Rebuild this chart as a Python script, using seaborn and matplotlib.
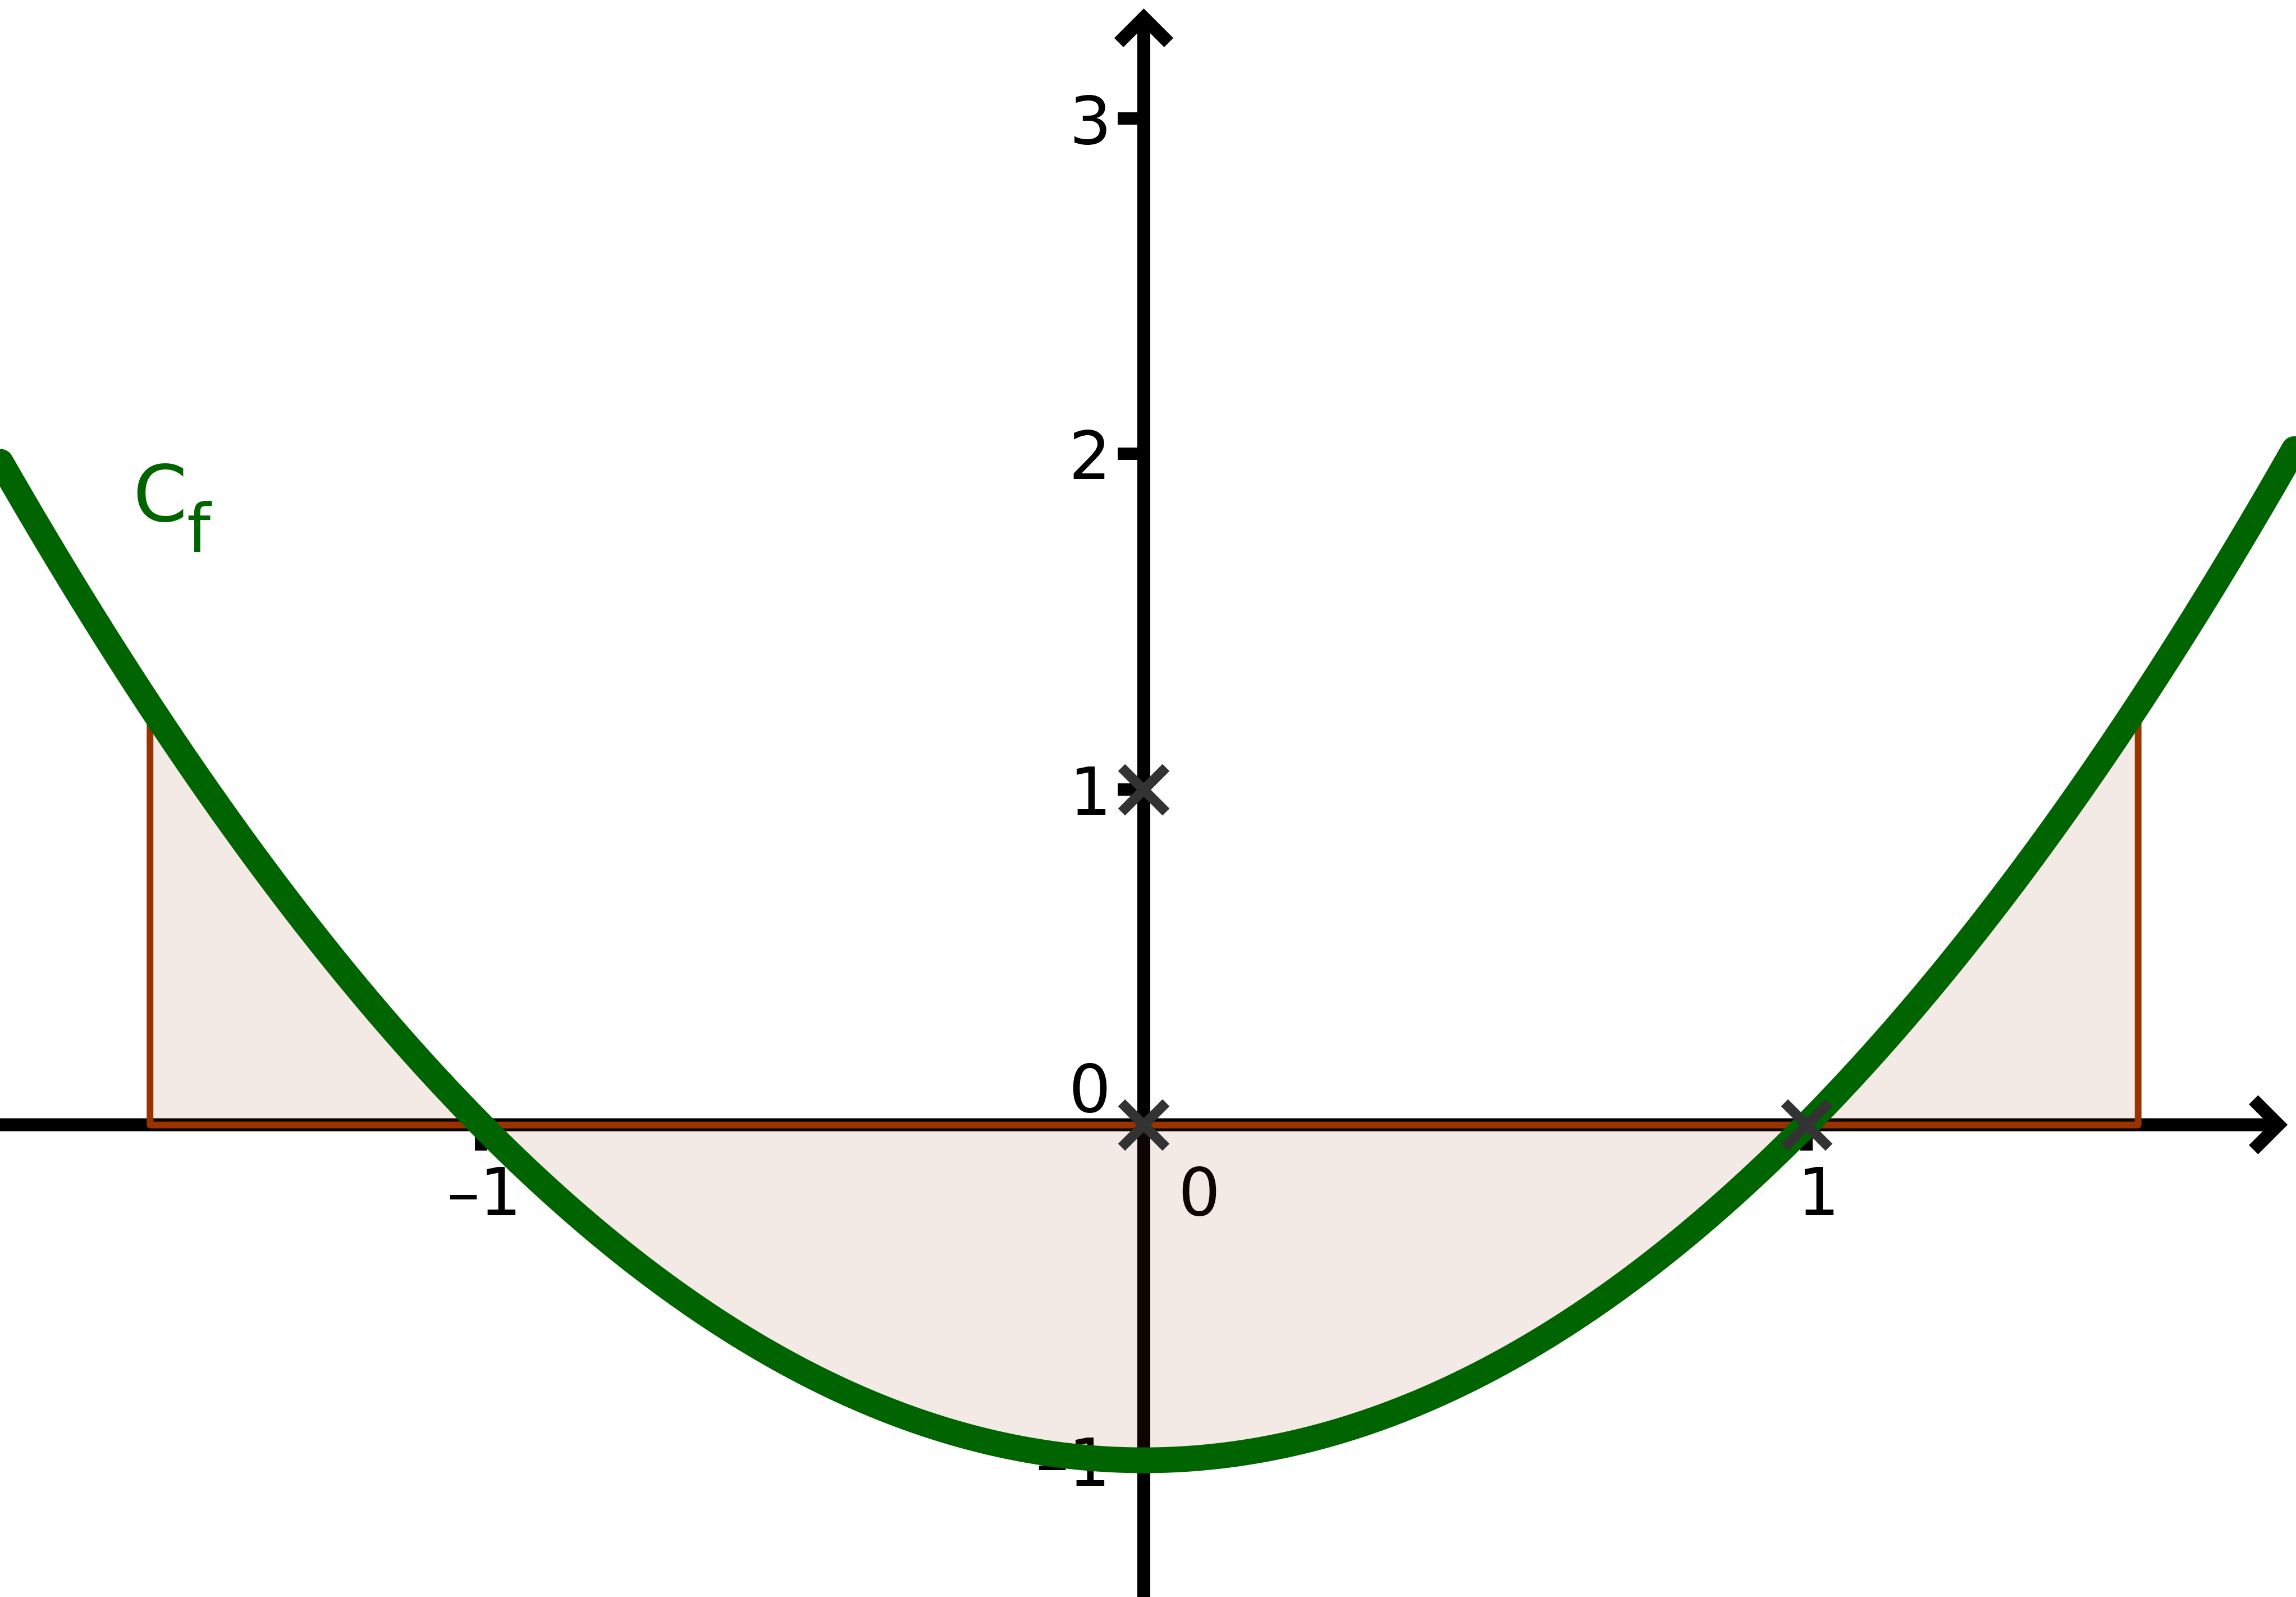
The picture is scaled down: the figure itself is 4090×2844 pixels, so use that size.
import numpy as np
import matplotlib.pyplot as plt
import matplotlib.transforms as mtransforms
import seaborn as sns

# curve C_f : f(x) = x^2 - 1  (polynomial coefficients, highest power first)
coeffs = [1, 0, -1]
curve_from, curve_to = -1.725, 1.736
# shaded area between C_f and the x-axis
shade_from, shade_to = -1.5, 1.5

# marked points
pts_x = [0, 0, 1]
pts_y = [1, 0, 0]

xticks = [-1, 0, 1]
xtick_labels = ['–1', '0', '1']
yticks = [-1, 0, 1, 2, 3]
ytick_labels = ['–1', '0', '1', '2', '3']

label_main, label_sub = 'C', 'f'

# view window
xlim = (-1.72596, 1.73867)
ylim = (-1.4075, 3.3523)
x_tip, y_tip = 1.726, 3.327

sns.set_style('white')
plt.rcParams['font.family'] = ['DejaVu Sans']

fig = plt.figure(figsize=(40.9, 28.44), dpi=100)
ax = fig.add_axes([0, 0, 1, 1])
ax.set_xlim(*xlim)
ax.set_ylim(*ylim)

for side in ['top', 'right', 'left', 'bottom']:
    ax.spines[side].set_visible(False)
ax.spines['left'].set_position(('data', 0))
ax.spines['bottom'].set_position(('data', 0))

# axes with open arrow heads
arrow_kw = dict(arrowstyle='->,head_length=0.4,head_width=0.4', lw=16.6, color='black',
                shrinkA=0, shrinkB=0, mutation_scale=80,
                capstyle='butt', joinstyle='miter')
ax.annotate('', xy=(x_tip, 0), xytext=(xlim[0], 0), arrowprops=arrow_kw,
            zorder=2, annotation_clip=False)
ax.annotate('', xy=(0, y_tip), xytext=(0, ylim[0]), arrowprops=arrow_kw,
            zorder=2, annotation_clip=False)

# ticks
ax.set_xticks(xticks, xtick_labels)
ax.set_yticks(yticks, ytick_labels)
ax.tick_params(axis='both', direction='out', length=32.8, width=15.8,
               color='black', labelsize=85, labelcolor='black',
               bottom=True, left=True, top=False, right=False)
ax.tick_params(axis='x', pad=18)
ax.tick_params(axis='y', pad=9.5)
ax.grid(False)

# nudge x labels; the two "0" labels sit away from the origin
for lbl, dx in zip(ax.get_xticklabels(), [4, 71, 15]):
    lbl.set_transform(lbl.get_transform() + mtransforms.ScaledTranslation(dx / 72, 0, fig.dpi_scale_trans))
ly = ax.get_yticklabels()[yticks.index(0)]
ly.set_transform(ly.get_transform() + mtransforms.ScaledTranslation(0, 49 / 72, fig.dpi_scale_trans))

# shaded area
xs_fill = np.linspace(shade_from, shade_to, 600)
ax.fill_between(xs_fill, np.polyval(coeffs, xs_fill), 0,
                facecolor=(0.6, 0.2, 0.0, 0.1), edgecolor='#993300', lw=8.6, zorder=3)

# curve
xs = np.linspace(curve_from, curve_to, 800)
sns.lineplot(x=xs, y=np.polyval(coeffs, xs), color='#006400', lw=33,
             solid_capstyle='round', sort=False, zorder=5, ax=ax)
ax.text(-1.5255, 1.799, label_main, color='#006400', fontsize=100,
        ha='left', va='baseline', zorder=5)
ax.text(-1.4445, 1.707, label_sub, color='#006400', fontsize=86,
        ha='left', va='baseline', zorder=5)

# points
sns.scatterplot(x=pts_x, y=pts_y, marker='x', s=57 ** 2, linewidth=12.7,
                color='#333333', zorder=6, ax=ax)

ax.set_xlabel('')
ax.set_ylabel('')
fig.savefig('out.png', dpi=100, facecolor='white')
